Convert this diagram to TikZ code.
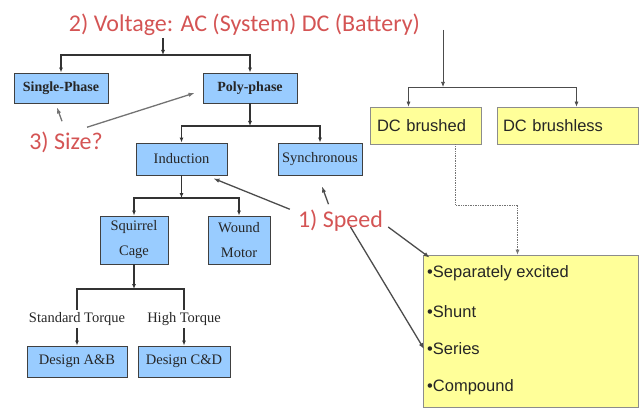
\documentclass[tikz,border=0pt]{standalone}
\usepackage{fontspec}
\setmainfont{Liberation Serif}
\newfontfamily\notefont{Carlito}
\newfontfamily\dcfont{Liberation Sans}
\usetikzlibrary{arrows.meta}
\definecolor{acblue}{RGB}{153,204,255}
\definecolor{dcyellow}{RGB}{255,255,153}
\definecolor{notered}{RGB}{212,84,84}
\begin{document}
\begin{tikzpicture}[
 x=1pt, y=-1pt,
 acbox/.style={draw=black!75, line width=0.9pt, fill=acblue, inner sep=0pt, text=black!85,
   font=\fontsize{14.5}{25}\selectfont, align=center},
 dcbox/.style={draw=black!45, line width=0.7pt, fill=dcyellow, inner sep=0pt, text=black!85,
   font=\dcfont\fontsize{16.5}{20}\selectfont},
 bullet/.style={inner sep=0pt, anchor=west, text=black!85, font=\dcfont\fontsize{16.5}{20}\selectfont},
 torque/.style={inner sep=2pt, text=black!85, font=\fontsize{14.5}{18}\selectfont},
 note/.style={inner sep=0pt, anchor=base, text=notered, font=\notefont\fontsize{24}{28}\selectfont},
 wire/.style={draw=black!80, line width=1.1pt},
 tree/.style={wire, -{Latex[length=5pt,width=4pt]}},
 dctree/.style={draw=black!70, line width=0.7pt, -{Latex[length=5pt,width=4pt]}},
 hint/.style={draw=black!70, line width=1.3pt, -{Latex[length=6pt,width=4.5pt]}}
]
\useasboundingbox (0,0) rectangle (642,409);

% notes
\node[note] (voltage) at (244.5,32) {2) Voltage: AC (System) DC (Battery)};
\node[note] (size) at (66,149) {3) Size?};
\node[note] (speed) at (340.5,227) {1) Speed};

% AC side
\node[acbox, font=\bfseries\fontsize{14}{25}\selectfont, minimum width=94pt, minimum height=30pt] (single) at (61,88) {Single-Phase};
\node[acbox, font=\bfseries\fontsize{14}{25}\selectfont, minimum width=94pt, minimum height=30pt] (poly) at (250,88) {Poly-phase};
\node[acbox, minimum width=91pt, minimum height=32pt] (induction) at (181.5,159) {Induction};
\node[acbox, minimum width=84pt, minimum height=32pt] (synchronous) at (320,159) {Synchronous};
\node[acbox, minimum width=68pt, minimum height=48pt] (squirrel) at (134,240) {Squirrel\\Cage};
\node[acbox, minimum width=62pt, minimum height=48pt] (wound) at (239,240) {Wound\\Motor};
\node[torque] (standard) at (77,319) {Standard Torque};
\node[torque] (high) at (184,319) {High Torque};
\node[acbox, minimum width=100pt, minimum height=31pt] (designab) at (77,361.5) {Design A\&B};
\node[acbox, minimum width=92pt, minimum height=31pt] (designcd) at (184,361.5) {Design C\&D};

% DC side
\node[dcbox, minimum width=111pt, minimum height=37pt, text width=97pt, inner xsep=7pt, align=left] (brushed) at (425.5,125.5) {DC brushed};
\node[dcbox, minimum width=141pt, minimum height=37pt, text width=129pt, inner xsep=6pt, align=left] (brushless) at (567.5,125.5) {DC brushless};
\node[dcbox, minimum width=215pt, minimum height=152pt] (field) at (530.5,331) {};
\node[bullet] (separately) at (427,273) {•Separately excited};
\node[bullet] (shunt) at (427,312) {•Shunt};
\node[bullet] (series) at (427,349) {•Series};
\node[bullet] (compound) at (427,387) {•Compound};

% AC tree
\coordinate (acTop) at (163,38);
\coordinate (acFork) at (163,55);
\draw[tree] (acTop) -- (acFork);
\draw[tree] (acFork) -| (single);
\draw[tree] (acFork) -| (poly);
\coordinate (polyFork) at (poly.south |- 0,126);
\draw[tree] (poly) -- (polyFork);
\draw[tree] (polyFork) -| (induction);
\draw[tree] (polyFork) -| (synchronous);
\coordinate (indFork) at (induction.south |- 0,198);
\draw[tree] (induction) -- (indFork);
\draw[tree] (indFork) -| (squirrel);
\draw[tree] (indFork) -| (wound);
\coordinate (sqFork) at (squirrel.south |- 0,289);
\draw[tree] (squirrel) -- (sqFork);
\draw[wire] (sqFork) -| (standard);
\draw[wire] (sqFork) -| (high);
\draw[tree] (standard) -- (designab);
\draw[tree] (high) -- (designcd);

% DC tree
\coordinate (dcTop) at (443,30);
\coordinate (dcFork) at (443,87);
\draw[dctree] (dcTop) -- (dcFork);
\draw[dctree] (dcFork) -| ([xshift=-17pt]brushed.north);
\draw[dctree] (dcFork) -| ([xshift=9pt]brushless.north);
\coordinate (brushedBend) at (455.5,205);
\draw[dctree, draw=black!55, densely dotted, line width=0.8pt] ([xshift=30pt]brushed.south) -- (brushedBend) -| ([xshift=-13pt]field.north);

% hints
\draw[hint, draw=black!55] ([xshift=-4pt,yshift=10pt]size.north) -- ([xshift=-4pt,yshift=-4pt]single.south);
\draw[hint, draw=black!55] ([xshift=21pt,yshift=4pt]size.north) -- ([xshift=-8pt,yshift=-5pt]poly.west);
\draw[hint] ([xshift=-8pt]speed.north west) -- ([xshift=-14pt,yshift=-3pt]induction.south east);
\draw[hint] ([xshift=-12pt,yshift=5pt]speed.north) -- ([xshift=2pt,yshift=-11pt]synchronous.south);
\draw[hint] ([xshift=10pt]speed.base) -- ([xshift=-3pt]series.west);
\draw[hint] ([xshift=5pt]speed.base east) -- ([xshift=7pt,yshift=-3pt]field.north west);
\end{tikzpicture}
\end{document}
